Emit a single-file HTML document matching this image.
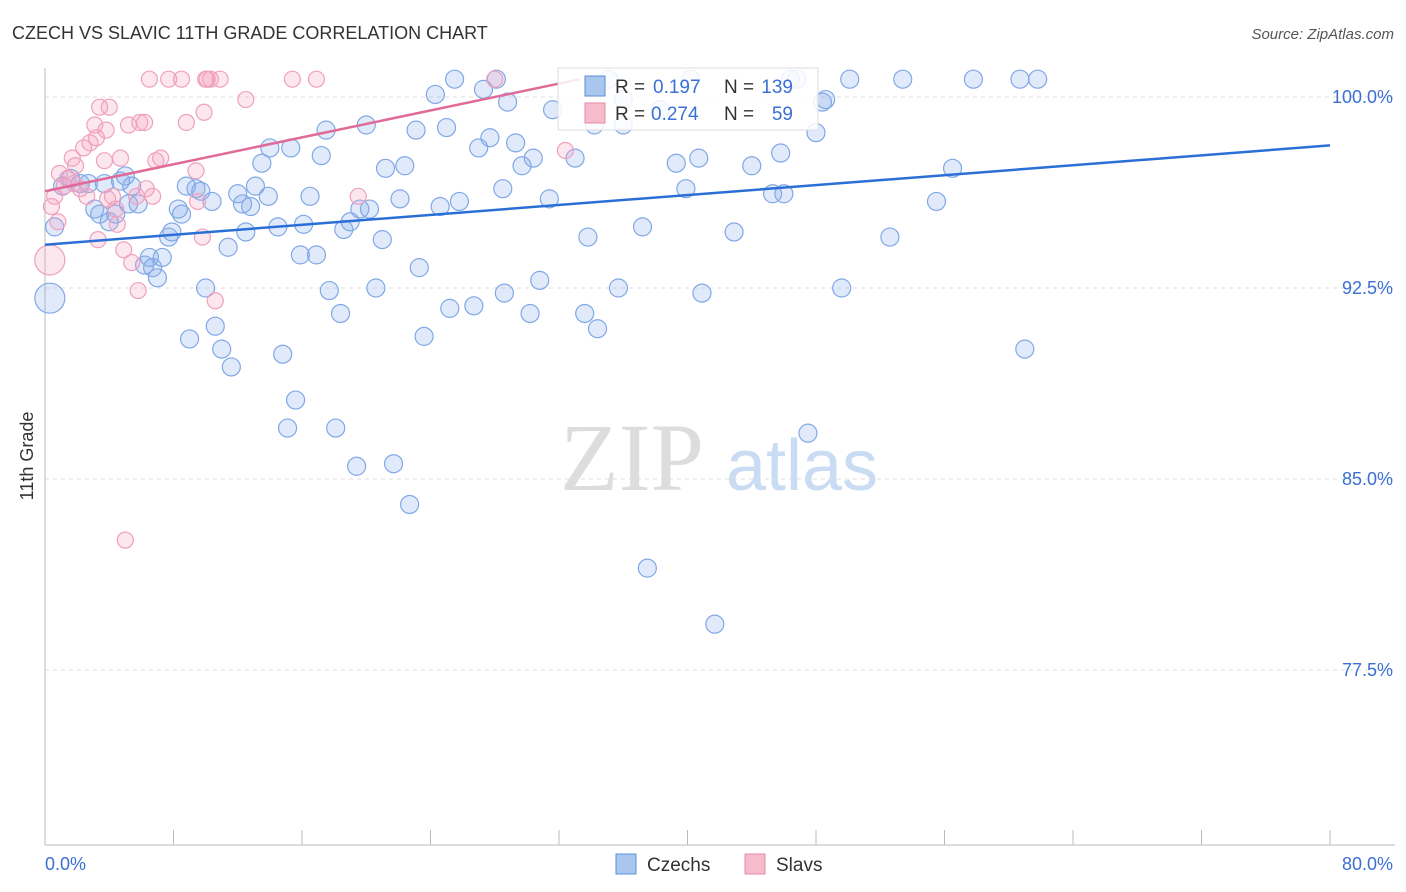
<!DOCTYPE html>
<html><head><meta charset="utf-8"><style>
body{margin:0;background:#fff;font-family:"Liberation Sans",sans-serif;}
svg{display:block}
</style></head><body>
<svg id="chart" width="1406" height="892">
<text x="12" y="39" font-size="18" fill="#333">CZECH VS SLAVIC 11TH GRADE CORRELATION CHART</text>
<text x="1394" y="39" font-size="15" fill="#555" font-style="italic" text-anchor="end">Source: ZipAtlas.com</text>
<text x="33" y="456" font-size="18" fill="#333" transform="rotate(-90 33 456)" text-anchor="middle">11th Grade</text>
<g><text x="632" y="490" font-size="96" fill="#ddd" font-family="Liberation Serif" text-anchor="middle">ZIP</text><text x="802" y="490" font-size="72" fill="#c9dcf3" text-anchor="middle">atlas</text></g>
<g id="grid"></g><g id="axes"></g><g id="pts"></g><g id="trend"></g>
<g>
<rect x="558" y="68" width="260" height="62" fill="#fff" fill-opacity="0.85" stroke="#ddd"/>
<rect x="585" y="76" width="20" height="20" fill="#a9c6ee" stroke="#5b8fd8"/>
<text x="615" y="93" font-size="19" fill="#333">R =</text>
<text x="653" y="93" font-size="19" fill="#3b6fd4">0.197</text>
<text x="724" y="93" font-size="19" fill="#333">N =</text>
<text x="793" y="93" font-size="19" fill="#3b6fd4" text-anchor="end">139</text>
<rect x="585" y="103" width="20" height="20" fill="#f6bccd" stroke="#e88aa8"/>
<text x="615" y="120" font-size="19" fill="#333">R =</text>
<text x="651" y="120" font-size="19" fill="#3b6fd4">0.274</text>
<text x="724" y="120" font-size="19" fill="#333">N =</text>
<text x="793" y="120" font-size="19" fill="#3b6fd4" text-anchor="end">59</text>
</g>
<g>
<rect x="616" y="854" width="20" height="20" fill="#a9c6ee" stroke="#5b8fd8"/>
<text x="647" y="871" font-size="19" fill="#333">Czechs</text>
<rect x="745" y="854" width="20" height="20" fill="#f6bccd" stroke="#e88aa8"/>
<text x="776" y="871" font-size="19" fill="#333">Slavs</text>
</g>
</svg>
<script>
const czechX=[0.3,0.6,1.1,1.6,2.2,2.7,3.1,3.4,3.7,4.0,4.4,4.7,5.0,5.2,5.4,5.8,6.2,6.5,6.7,7.0,7.3,7.7,7.9,8.3,8.5,8.8,9.0,9.4,9.7,10.0,10.4,10.6,11.0,11.4,11.6,12.0,12.3,12.5,12.8,13.1,13.5,13.9,14.0,14.5,14.8,15.3,15.1,15.6,15.9,16.1,16.5,16.9,17.2,17.5,17.7,18.1,18.4,18.6,19.0,19.4,19.6,20.0,20.2,20.6,21.0,21.2,21.7,22.1,22.4,22.7,23.1,23.3,23.6,24.3,24.6,25.0,25.2,25.5,25.8,26.7,27.0,27.3,27.7,28.1,28.5,28.6,28.8,29.3,29.7,30.2,30.4,30.8,31.4,31.6,33.0,33.6,33.8,34.4,34.2,35.1,35.7,36.0,36.0,37.2,37.5,38.3,39.3,39.9,40.2,40.7,40.9,41.7,42.9,44.0,45.3,45.8,46.0,46.4,46.8,47.5,48.0,48.4,48.6,49.6,50.1,52.6,53.4,55.5,56.5,57.8,60.7,61.0,61.8];
const czechY=[92.1,94.9,96.5,96.8,96.6,96.6,95.6,95.4,96.6,95.1,95.4,96.7,96.9,95.8,96.5,95.8,93.4,93.7,93.3,92.9,93.7,94.5,94.7,95.6,95.4,96.5,90.5,96.4,96.3,92.5,95.9,91.0,90.1,94.1,89.4,96.2,95.8,94.7,95.7,96.5,97.4,96.1,98.0,94.9,89.9,98.0,87.0,88.1,93.8,95.0,96.1,93.8,97.7,98.7,92.4,87.0,91.5,94.8,95.1,85.5,95.6,98.9,95.6,92.5,94.4,97.2,85.6,96.0,97.3,84.0,98.7,93.3,90.6,100.1,95.7,98.8,91.7,100.7,95.9,91.8,98.0,100.3,98.4,100.7,96.4,92.3,99.8,98.2,97.3,91.5,97.6,92.8,96.0,99.5,97.6,91.5,94.5,90.9,98.9,100.7,92.5,98.9,99.9,94.9,81.5,99.5,97.4,96.4,100.7,97.6,92.3,79.3,94.7,97.3,96.2,97.8,96.2,100.7,100.7,86.8,98.6,99.8,99.9,92.5,100.7,94.5,100.7,95.9,97.2,100.7,100.7,90.1,100.7];
const slavX=[0.3,0.4,0.6,0.8,0.9,1.2,1.4,1.7,1.8,1.9,2.2,2.4,2.6,2.8,3.1,3.2,3.3,3.4,3.7,3.8,3.9,4.0,4.2,4.4,4.5,4.7,4.9,5.0,5.2,5.4,5.7,5.8,5.9,6.2,6.3,6.5,6.7,6.9,7.2,7.7,8.5,8.8,9.4,9.5,9.8,9.9,10.0,10.1,10.3,10.6,10.9,12.5,15.4,16.9,19.5,28.0,32.4];
const slavY=[93.6,95.7,96.1,95.1,97.0,96.5,96.8,97.6,96.6,97.3,96.4,98.0,96.1,98.2,98.9,98.4,94.4,99.6,97.5,98.7,96.0,99.6,96.1,95.6,95.0,97.6,94.0,82.6,98.9,93.5,96.1,92.4,99.0,99.0,96.4,100.7,96.1,97.5,97.6,100.7,100.7,99.0,97.1,95.9,94.5,99.4,100.7,100.7,100.7,92.0,100.7,99.9,100.7,100.7,96.1,100.7,97.9];
const czechTrend=[94.2,98.1];
const slavTrend=[96.3,100.7];
const slavTrendEnd=33.3;
const yTicks=[100,92.5,85,77.5];
const yTickLabels=["100.0%","92.5%","85.0%","77.5%"];
const X0=45,X1=1330,YA=97,YB=288;
const sx=v=>X0+(v/80)*(X1-X0);
const sy=v=>YA+(100-v)/7.5*(YB-YA);
const NS="http://www.w3.org/2000/svg";
function mk(t,a,p){const e=document.createElementNS(NS,t);for(const k in a)e.setAttribute(k,a[k]);p.appendChild(e);return e;}
const grid=document.getElementById('grid'),axes=document.getElementById('axes'),pts=document.getElementById('pts'),tr=document.getElementById('trend');
yTicks.forEach((t,i)=>{
 const l=mk('line',{x1:45,x2:1395,y1:sy(t),y2:sy(t),stroke:'#ddd','stroke-dasharray':'4,4'},grid);
 
 
 const tx=mk('text',{x:1393,y:sy(t)+6,'font-size':18,fill:'#3b6fd4','text-anchor':'end'},grid);
 tx.textContent=yTickLabels[i];
 
 
});
const ax=mk('line',{x1:45,x2:1395,y1:845,y2:845,stroke:'#bbb'},axes);


const ay=mk('line',{x1:45,x2:45,y1:68,y2:845,stroke:'#bbb'},axes);


for(let i=0;i<=10;i++){const x=sx(i*8);const t=mk('line',{x1:x,x2:x,y1:830,y2:845,stroke:'#bbb'},axes);
 
 }
const xl=mk('text',{x:45,y:870,'font-size':18,fill:'#3b6fd4'},axes);xl.textContent='0.0%';


const xr=mk('text',{x:1393,y:870,'font-size':18,fill:'#3b6fd4','text-anchor':'end'},axes);xr.textContent='80.0%';


czechX.forEach((x,i)=>{const c=mk('circle',{cx:sx(x),cy:sy(czechY[i]),r:i===0?15:9,fill:'rgba(130,170,235,0.25)',stroke:'#80a8e6','stroke-width':1.2},pts);
 
 });
slavX.forEach((x,i)=>{const c=mk('circle',{cx:sx(x),cy:sy(slavY[i]),r:i===0?15:8,fill:'rgba(245,160,190,0.25)',stroke:'#f0a0bc','stroke-width':1.2},pts);
 
 });
const l1=mk('line',{x1:sx(0),y1:sy(czechTrend[0]),x2:sx(80),y2:sy(czechTrend[1]),stroke:'#2a6fd6','stroke-width':2.5},tr);


const l2=mk('line',{x1:sx(0),y1:sy(slavTrend[0]),x2:sx(slavTrendEnd),y2:sy(slavTrend[1]),stroke:'#e06b98','stroke-width':2.5},tr);


</script>
</body></html>
